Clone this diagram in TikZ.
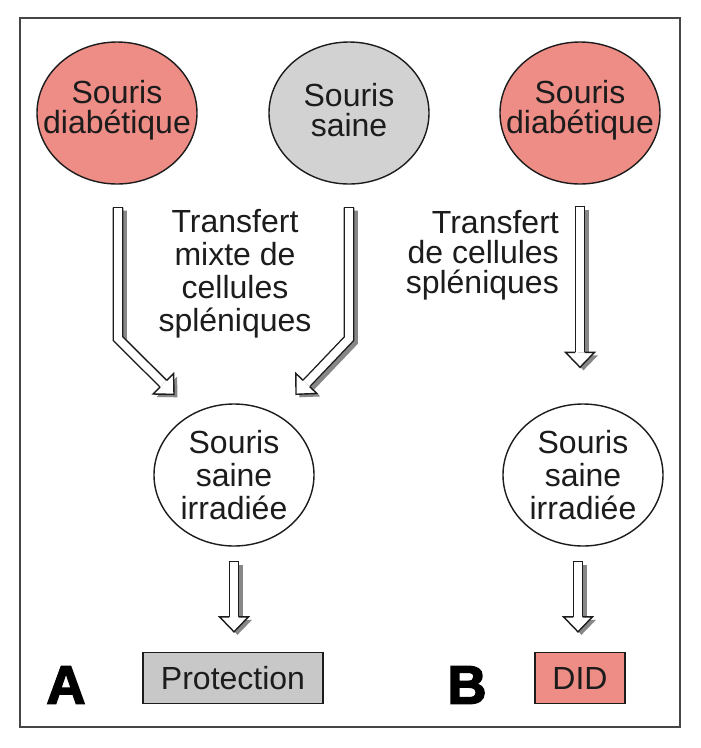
\documentclass[tikz,border=0pt]{standalone}
\usepackage{fontspec}
\setmainfont{Liberation Sans}
\newfontfamily\heavyfont[FakeBold=3]{Liberation Sans Bold}
\usetikzlibrary{calc,shapes.geometric}
\definecolor{pinkf}{RGB}{238,140,134}
\definecolor{grayf}{RGB}{210,210,210}
\definecolor{boxgray}{RGB}{200,200,200}
\definecolor{ink}{RGB}{28,28,28}
\definecolor{shadowc}{RGB}{135,135,135}
\definecolor{framec}{RGB}{70,70,70}

% hollow arrow: #1 start, #2 extra path (e.g. -- (b)), #3 point before tip, #4 tip
\newcommand\harrow[4]{%
  \path ($(#4)!15pt!(#3)$) coordinate (hb)
        ($(hb)!4.6pt!90:(#4)$) coordinate (hbl)
        ($(hb)!4.6pt!-90:(#4)$) coordinate (hbr)
        ($(hb)!14.5pt!90:(#4)$) coordinate (hhl)
        ($(hb)!14.5pt!-90:(#4)$) coordinate (hhr);
  \begin{scope}[transform canvas={shift={(3.5pt,-3pt)}}]
    \draw[shadowc, line width=10.6pt, line join=miter] (#1) #2 -- (hb);
    \fill[shadowc] (hbl) -- (hhl) -- (#4) -- (hhr) -- (hbr) -- cycle;
  \end{scope}
  \draw[ink, line width=1.4pt, double=white, double distance=7.8pt, line join=miter] (#1) #2 -- (hb);
  \draw[ink, line width=1.4pt] ($(#1)+(-5.3pt,0)$) -- ($(#1)+(5.3pt,0)$);
  \fill[white] (hbl) -- (hhl) -- (#4) -- (hhr) -- (hbr) -- cycle;
  \draw[ink, line width=1.4pt, line join=miter] (hbl) -- (hhl) -- (#4) -- (hhr) -- (hbr);
}

\tikzset{
  disc/.style={draw=ink, line width=1.4pt, ellipse, minimum width=160pt, minimum height=142pt, inner sep=0pt},
  txt/.style={text=ink, font=\fontsize{32}{33}\selectfont, align=center, inner sep=0pt},
  txtt/.style={text=ink, font=\fontsize{32}{30}\selectfont, align=center, inner sep=0pt},
  resbox/.style={draw=ink, line width=1.4pt, inner sep=0pt, minimum height=51pt, text=ink, font=\fontsize{32}{33}\selectfont},
  letter/.style={text=black, font=\heavyfont\fontsize{54}{54}\selectfont, inner sep=0pt}
}

\begin{document}
\begin{tikzpicture}[x=1pt,y=-1pt]
\useasboundingbox (0,0) rectangle (701,748);
\fill[white] (0,0) rectangle (701,748);
\draw[framec, line width=2pt] (20,18) rectangle (680,727);

% top mice
\node[disc, fill=pinkf] (d1) at (117,113) {};
\node[txtt] (d1t) at ($(d1.center)+(0,-3)$) {Souris\\diabétique};
\node[disc, fill=grayf] (s1) at (349,113) {};
\node[txtt] (s1t) at ($(s1.center)+(0,-3)$) {Souris\\saine};
\node[disc, fill=pinkf] (d2) at (580,113) {};
\node[txtt] (d2t) at ($(d2.center)+(0,-3)$) {Souris\\diabétique};

% irradiated mice
\node[disc, fill=white] (i1) at (234,475) {};
\node[txt] (i1t) at (i1.center) {Souris\\saine\\irradiée};
\node[disc, fill=white] (i2) at (583,475) {};
\node[txt] (i2t) at (i2.center) {Souris\\saine\\irradiée};

% transfer texts
\node[txt, anchor=north] (t1) at (235,209) {Transfert\\mixte de\\cellules\\spléniques};
\node[txtt, anchor=north east, align=right] (t2) at (559,210) {Transfert\\de cellules\\spléniques};

% results
\node[resbox, fill=boxgray, minimum width=180pt] (p1) at (233,678) {Protection};
\node[resbox, fill=pinkf, minimum width=90pt] (p2) at (580,678) {DID};

\node[letter] (la) at (66,685) {A};
\node[letter] (lb) at (467,685) {B};

% arrows
\coordinate (a1s) at ($(d1.south)+(1,23)$);
\coordinate (a1b) at ($(d1.south)+(1,154)$);
\coordinate (a1t) at ($(i1.north)+(-60,-9)$);
\coordinate (a2s) at ($(s1.south)+(0,23)$);
\coordinate (a2b) at ($(s1.south)+(0,154)$);
\coordinate (a2t) at ($(i1.north)+(62,-9)$);
\coordinate (b1s) at ($(d2.south)+(0,22)$);
\coordinate (b1t) at ($(i2.north)+(-3,-36)$);
\coordinate (a3s) at ($(i1.south)+(0,15)$);
\coordinate (a3t) at ($(p1.north)+(1,-20)$);
\coordinate (b3s) at ($(i2.south)+(-5,15)$);
\coordinate (b3t) at ($(p2.north)+(-2,-20)$);

\harrow{a1s}{-- (a1b)}{a1b}{a1t}
\harrow{a2s}{-- (a2b)}{a2b}{a2t}
\harrow{b1s}{}{b1s}{b1t}
\harrow{a3s}{}{a3s}{a3t}
\harrow{b3s}{}{b3s}{b3t}
\end{tikzpicture}
\end{document}
